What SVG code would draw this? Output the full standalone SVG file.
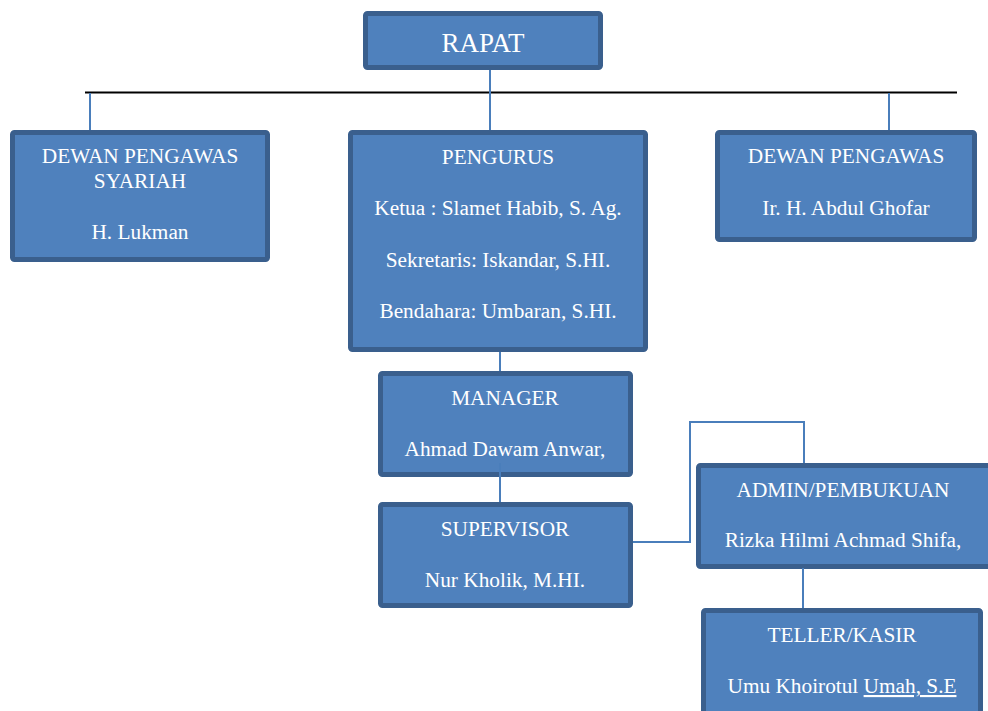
<svg xmlns="http://www.w3.org/2000/svg" width="988" height="711" viewBox="0 0 988 711">
<style>
.box{fill:#4F81BD;stroke:#3A5F8D;stroke-width:5}
.t{font-size:21.3px;fill:#FFFFFF;text-anchor:middle}
.big{font-size:27px}
.c{fill:none;stroke:#4A7EBB;stroke-width:2}
</style>
<rect width="988" height="711" fill="#FFFFFF"/>
<g id="nodes" font-family="Liberation Serif, Times New Roman, serif">
<g id="rapat"><rect class="box" x="365.5" y="13.5" width="235" height="54" rx="2"/><text class="t big" x="483" y="52">RAPAT</text></g>
<g id="dps"><rect class="box" x="12.5" y="132.5" width="255" height="127" rx="2"/><text class="t" x="140" y="163">DEWAN PENGAWAS</text><text class="t" x="140" y="188">SYARIAH</text><text class="t" x="140" y="239">H. Lukman</text></g>
<g id="pengurus"><rect class="box" x="350.5" y="132.5" width="295" height="217" rx="2"/><text class="t" x="498" y="164">PENGURUS</text><text class="t" x="498" y="215">Ketua : Slamet Habib, S. Ag.</text><text class="t" x="498" y="267">Sekretaris: Iskandar, S.HI.</text><text class="t" x="498" y="318">Bendahara: Umbaran, S.HI.</text></g>
<g id="dp"><rect class="box" x="717.5" y="132.5" width="257" height="107" rx="2"/><text class="t" x="846" y="163">DEWAN PENGAWAS</text><text class="t" x="846" y="215">Ir. H. Abdul Ghofar</text></g>
<g id="manager"><rect class="box" x="380.5" y="373.5" width="250" height="101" rx="2"/><text class="t" x="505" y="405">MANAGER</text><text class="t" x="505" y="456">Ahmad Dawam Anwar,</text></g>
<g id="supervisor"><rect class="box" x="380.5" y="504.5" width="250" height="101" rx="2"/><text class="t" x="505" y="536">SUPERVISOR</text><text class="t" x="505" y="587">Nur Kholik, M.HI.</text></g>
<g id="admin"><rect class="box" x="698.5" y="465.5" width="294" height="101" rx="2"/><text class="t" x="843" y="497">ADMIN/PEMBUKUAN</text><text class="t" x="843" y="547">Rizka Hilmi Achmad Shifa,</text></g>
<g id="teller"><rect class="box" x="703.5" y="610.5" width="277" height="112" rx="2"/><text class="t" x="842" y="642">TELLER/KASIR</text><text class="t" x="842" y="693">Umu Khoirotul <tspan text-decoration="underline">Umah, S.E</tspan></text></g>
</g>
<g id="connectors">
<line x1="85" y1="92.5" x2="957" y2="92.5" stroke="#000000" stroke-width="2"/>
<line class="c" x1="90" y1="93" x2="90" y2="130"/>
<line class="c" x1="490" y1="70" x2="490" y2="130"/>
<line class="c" x1="889" y1="93" x2="889" y2="130"/>
<line class="c" x1="500" y1="352" x2="500" y2="371"/>
<line class="c" x1="500" y1="463" x2="500" y2="502"/>
<polyline class="c" points="633,542 690,542 690,422 804,422 804,463"/>
<line class="c" x1="803" y1="568" x2="803" y2="608"/>
</g>
</svg>
